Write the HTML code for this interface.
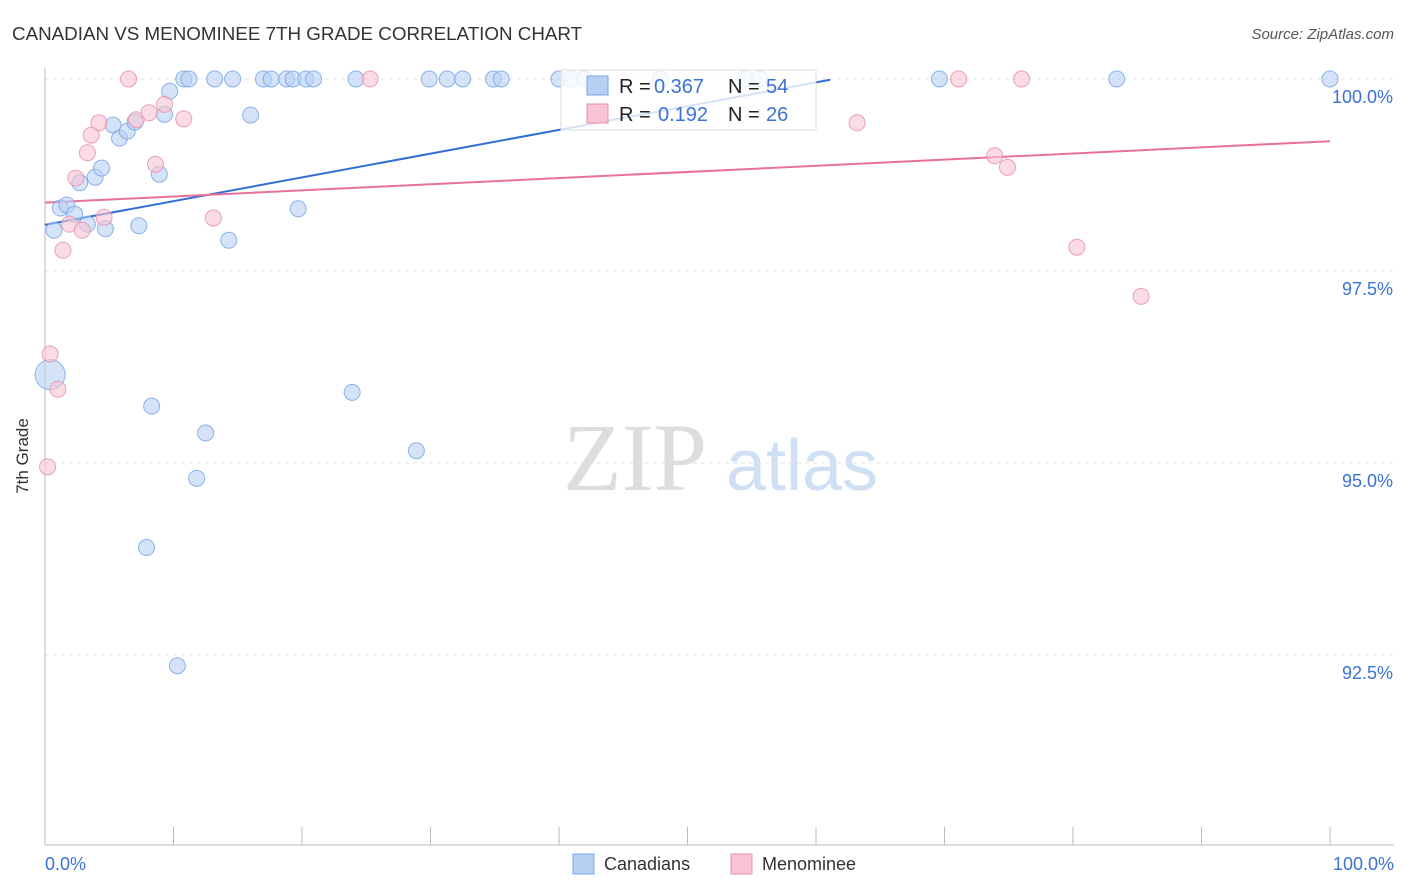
<!DOCTYPE html>
<html><head><meta charset="utf-8"><style>
body{margin:0;background:#fff;font-family:"Liberation Sans",sans-serif;}
svg{display:block}
</style></head><body>
<svg id="c" width="1406" height="892" xmlns="http://www.w3.org/2000/svg">
<text x="12" y="40" font-size="18.8" fill="#333">CANADIAN VS MENOMINEE 7TH GRADE CORRELATION CHART</text>
<text x="1394" y="39" font-size="15" fill="#555" font-style="italic" text-anchor="end">Source: ZipAtlas.com</text>
<text x="28" y="456" font-size="17" fill="#333" text-anchor="middle" transform="rotate(-90 28 456)">7th Grade</text>
<g><text x="635" y="490" font-size="96" fill="#ddd" font-family="Liberation Serif,serif" text-anchor="middle">ZIP</text><text x="802" y="490" font-size="72" fill="#cfe0f5" text-anchor="middle">atlas</text></g>
<g id="grid"></g><g id="axes"></g><g id="trend"></g><g id="pts"></g>
<g>
<rect x="561" y="70" width="255" height="60" fill="#fff" fill-opacity="0.8" stroke="#ddd"/>
<rect x="587" y="76" width="21" height="19" fill="#b8d0f3" stroke="#7aa6e6"/>
<text x="619" y="93" font-size="20" fill="#222">R =</text>
<text x="654" y="93" font-size="20" fill="#3a72d6">0.367</text>
<text x="728" y="93" font-size="20" fill="#222">N =</text>
<text x="766" y="93" font-size="20" fill="#3a72d6">54</text>
<rect x="587" y="104" width="21" height="19" fill="#f8c4d4" stroke="#e890ad"/>
<text x="619" y="121" font-size="20" fill="#222">R =</text>
<text x="658" y="121" font-size="20" fill="#3a72d6">0.192</text>
<text x="728" y="121" font-size="20" fill="#222">N =</text>
<text x="766" y="121" font-size="20" fill="#3a72d6">26</text>
</g>
<g>
<rect x="573" y="854" width="21" height="20" fill="#b8d0f3" stroke="#7aa6e6"/>
<text x="604" y="870" font-size="18" fill="#333">Canadians</text>
<rect x="731" y="854" width="21" height="20" fill="#f8c4d4" stroke="#e890ad"/>
<text x="762" y="870" font-size="18" fill="#333">Menominee</text>
</g>
</svg>
<script>
const yTicks=[100,97.5,95,92.5];
const yTickLabels=["100.0%","97.5%","95.0%","92.5%"];
const xLabels=["0.0%","100.0%"];
const canX=[0.7,1.2,1.7,2.3,2.7,3.3,3.9,4.4,4.7,5.3,5.8,6.4,7.0,7.3,8.3,7.9,8.9,9.3,9.7,10.3,10.8,11.2,11.8,12.5,13.2,14.3,14.6,16.0,17.0,17.6,18.8,19.3,19.7,20.3,20.9,23.9,24.2,28.9,29.9,31.3,32.5,34.9,35.5,40.0,40.9,42.0,47.9,54.5,55.6,69.6,83.4,100,0.4];
const canY=[98.03,98.32,98.36,98.24,98.65,98.11,98.72,98.84,98.05,99.40,99.23,99.32,99.44,98.09,95.74,93.90,98.76,99.54,99.84,92.36,100,100,94.80,95.39,100,97.90,100,99.53,100,100,100,100,98.31,100,100,95.92,100,95.16,100,100,100,100,100,100,100,100,100,100,100,100,100,100,96.15];
const menX=[0.2,0.4,1.0,1.4,1.9,2.4,2.9,3.3,3.6,4.2,4.6,6.5,7.1,8.1,8.6,9.3,10.8,13.1,25.3,63.2,71.1,73.9,74.9,76.0,80.3,85.3];
const menY=[94.95,96.42,95.96,97.77,98.11,98.71,98.03,99.04,99.27,99.43,98.20,100,99.47,99.56,98.89,99.67,99.48,98.19,100,99.43,100,99.0,98.85,100,97.81,97.17];
const canTrend=[98.1,99.99];
const menTrend=[98.39,99.19];
const X=v=>45+v*12.85, Y=v=>79+(100-v)*76.8;
const NS="http://www.w3.org/2000/svg";
function mk(tag,attrs,parent){const e=document.createElementNS(NS,tag);for(const k in attrs)e.setAttribute(k,attrs[k]);document.getElementById(parent).appendChild(e);return e;}
yTicks.forEach((t,i)=>{
 const l=mk('line',{x1:45,x2:1394,y1:Y(t),y2:Y(t),stroke:'#e2e2e2','stroke-dasharray':'4,4'},'grid');
 
 
 const tx=mk('text',{x:1393,y:Y(t)+24,'font-size':18,fill:'#3a72d6','text-anchor':'end'},'axes');tx.textContent=yTickLabels[i];
 
 
});
let a=mk('line',{x1:45,x2:45,y1:68,y2:845,stroke:'#bbb'},'axes');


a=mk('line',{x1:45,x2:1394,y1:845,y2:845,stroke:'#bbb'},'axes');


for(let i=0;i<=10;i++){const t=mk('line',{x1:X(i*10),x2:X(i*10),y1:827,y2:845,stroke:'#bbb'},'axes');
 
 }
xLabels.forEach((s,i)=>{const t=mk('text',{x:i?1394:45,y:870,'font-size':18,fill:'#3a72d6','text-anchor':i?'end':'start'},'axes');t.textContent=s;
 
 });
let tl=mk('line',{x1:X(0),y1:Y(canTrend[0]),x2:X(61.1),y2:Y(canTrend[1]),stroke:'#2f6fd6','stroke-width':2},'trend');


tl=mk('line',{x1:X(0),y1:Y(menTrend[0]),x2:X(100),y2:Y(menTrend[1]),stroke:'#e8709a','stroke-width':2},'trend');


canX.forEach((x,i)=>{const c=mk('circle',{cx:X(x),cy:Y(canY[i]),r:i==canX.length-1?15:8,fill:'#b8d0f3','fill-opacity':0.6,stroke:'#7aa6e6','stroke-opacity':0.85},'pts');
 
 });
menX.forEach((x,i)=>{const c=mk('circle',{cx:X(x),cy:Y(menY[i]),r:8,fill:'#f8c4d4','fill-opacity':0.6,stroke:'#e890ad','stroke-opacity':0.85},'pts');
 
 });
</script>
</body></html>
